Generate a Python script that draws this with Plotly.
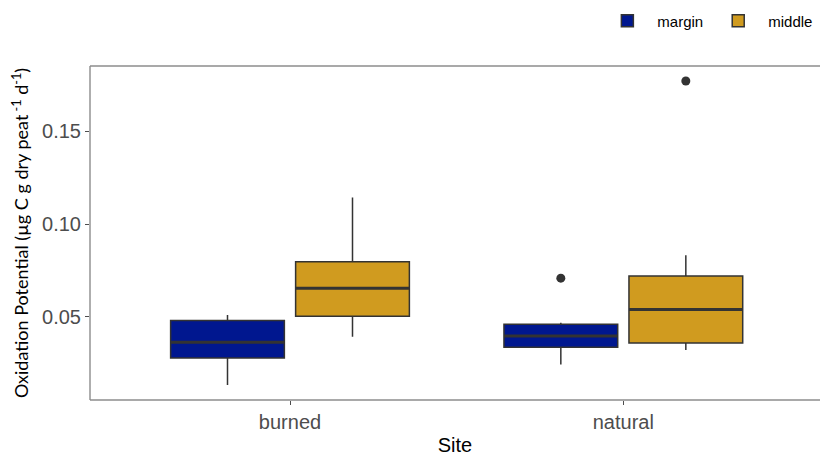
import plotly.graph_objects as go

# ---- data ----
sites = ["burned", "natural"]
groups = ["margin", "middle"]
colors = {"margin": "#00178F", "middle": "#D09B1F"}

lowerfence = {"margin": [0.0133, 0.0244], "middle": [0.0393, 0.0321]}
q1 = {"margin": [0.0278, 0.0336], "middle": [0.0504, 0.0360]}
median = {"margin": [0.0363, 0.0397], "middle": [0.0654, 0.0540]}
q3 = {"margin": [0.0481, 0.0461], "middle": [0.0797, 0.0720]}
upperfence = {"margin": [0.0510, 0.0468], "middle": [0.1144, 0.0833]}
outlier_site = {"margin": ["natural"], "middle": ["natural"]}
outlier_val = {"margin": [0.0709], "middle": [0.1772]}

ytick_vals = [0.05, 0.10, 0.15]

# ---- layout parameters ----
BOXGAP = 0.25
BOXGROUPGAP = 0.09
FRAME = "#8C8C8C"
site_pos = {s: i for i, s in enumerate(sites)}
n_groups = len(groups)
xs = [site_pos[s] for s in sites]

fig = go.Figure()

for k, g in enumerate(groups):
    fig.add_trace(go.Box(
        name=g,
        x=xs,
        q1=q1[g], median=median[g], q3=q3[g],
        lowerfence=lowerfence[g], upperfence=upperfence[g],
        boxpoints=False,
        whiskerwidth=0,
        fillcolor=colors[g],
        line=dict(color="#333333", width=1.5),
        offsetgroup=g,
        hoverinfo="skip",
    ))
    # thicker median line drawn over the box (degenerate box at the median)
    fig.add_trace(go.Box(
        name=g,
        x=xs,
        q1=median[g], median=median[g], q3=median[g],
        lowerfence=median[g], upperfence=median[g],
        boxpoints=False,
        whiskerwidth=0,
        fillcolor="rgba(0,0,0,0)",
        line=dict(color="#333333", width=3),
        offsetgroup=g,
        showlegend=False,
        hoverinfo="skip",
    ))

# outliers placed at dodged positions
for k, g in enumerate(groups):
    offset = (k + 0.5 - n_groups / 2) * (1 - BOXGAP) / n_groups
    fig.add_trace(go.Scatter(
        x=[site_pos[s] + offset for s in outlier_site[g]],
        y=outlier_val[g],
        mode="markers",
        marker=dict(color="#333333", size=9),
        showlegend=False,
        hoverinfo="skip",
    ))

# panel frame (top, bottom, left) as paper-referenced lines
frame_lines = [
    dict(x0=0, x1=1, y0=1, y1=1),
    dict(x0=0, x1=1, y0=0, y1=0),
    dict(x0=0, x1=0, y0=0, y1=1),
]
for fl in frame_lines:
    fig.add_shape(type="line", xref="paper", yref="paper", layer="above",
                  line=dict(color=FRAME, width=1.4), **fl)

fig.update_layout(
    width=820, height=458,
    margin=dict(l=90, r=0, t=66, b=58, autoexpand=False),
    paper_bgcolor="white", plot_bgcolor="white",
    boxmode="group", boxgap=BOXGAP, boxgroupgap=BOXGROUPGAP,
    font=dict(family="Liberation Sans, Arial, sans-serif", color="#4D4D4D"),
    legend=dict(
        orientation="h",
        xref="container", yref="container",
        x=0.998, xanchor="right", y=0.99, yanchor="top",
        font=dict(size=15, color="black"),
        itemwidth=50,
        traceorder="normal",
    ),
    showlegend=True,
)

fig.update_xaxes(
    range=[-0.6, 1.59],
    tickmode="array", tickvals=xs, ticktext=sites,
    showgrid=False, zeroline=False, showline=False,
    ticks="outside", ticklen=4, tickcolor="#4D4D4D",
    tickfont=dict(size=20, color="#4D4D4D"),
    title=dict(text="Site", font=dict(size=20, color="black"), standoff=5),
    automargin=False,
)
fig.update_yaxes(
    range=[0.0052, 0.1853],
    tickmode="array", tickvals=ytick_vals, tickformat=".2f",
    showgrid=False, zeroline=False, showline=False,
    ticks="outside", ticklen=4, tickcolor="#4D4D4D",
    tickfont=dict(size=20, color="#4D4D4D"),
    title=dict(
        text="Oxidation Potential (µg C g dry peat<sup> -1</sup> d<sup>-1</sup>)",
        font=dict(size=18, color="black", family="Lato, Open Sans, sans-serif"),
        standoff=8,
    ),
    automargin=False,
)

fig.write_html("out.html")
